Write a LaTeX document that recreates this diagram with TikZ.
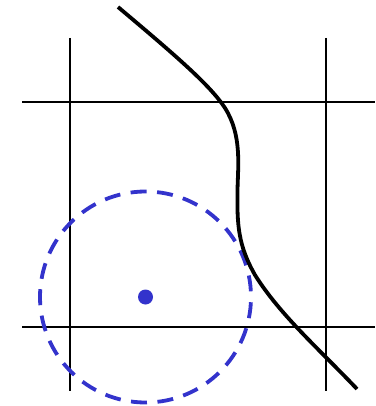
\documentclass[tikz,border=0pt]{standalone}
\definecolor{dotblue}{RGB}{51,51,204}
\begin{document}
\begin{tikzpicture}[x=1pt,y=-1pt,
  gridline/.style={line width=2pt,black},
  curveline/.style={line width=3.8pt,black},
  circline/.style={line width=3.8pt,dotblue,dash pattern=on 16pt off 10.5pt,dash phase=21.25pt}]
\useasboundingbox (0,0) rectangle (375,406);
% grid
\draw[gridline] (70,38) -- (70,391);
\draw[gridline] (326,38) -- (326,391);
\draw[gridline] (22,102) -- (375,102);
\draw[gridline] (22,326.5) -- (375,326.5);
% dashed circle and center dot
\draw[circline] (145.5,297) circle[radius=105.5];
\node[circle,fill=dotblue,inner sep=0pt,minimum size=15pt] (c) at (145.5,297) {};
% curve
\draw[curveline] (118,7) .. controls (175,55) and (210,85) .. (225,108)
  .. controls (242,135) and (238,165) .. (237.5,190)
  .. controls (237,225) and (238,245) .. (255,275)
  .. controls (280,315) and (320,350) .. (357,389);
\end{tikzpicture}
\end{document}
